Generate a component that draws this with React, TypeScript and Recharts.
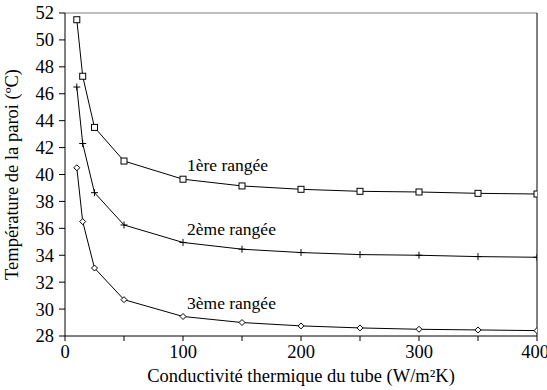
import { LineChart, Line, XAxis, YAxis, ReferenceLine } from "recharts";

const conductivity = [10, 15, 25, 50, 100, 150, 200, 250, 300, 350, 400];
const row1 = [51.5, 47.3, 43.5, 41.0, 39.65, 39.15, 38.9, 38.75, 38.7, 38.6, 38.55];
const row2 = [46.5, 42.3, 38.65, 36.25, 34.95, 34.45, 34.2, 34.05, 34.0, 33.9, 33.85];
const row3 = [40.5, 36.5, 33.05, 30.7, 29.45, 29.0, 28.75, 28.6, 28.5, 28.45, 28.4];
const rowNames = ["1ère rangée", "2ème rangée", "3ème rangée"];
const xTicks = [0, 50, 100, 150, 200, 250, 300, 350, 400];
const yTicks = [28, 30, 32, 34, 36, 38, 40, 42, 44, 46, 48, 50, 52];

const data = conductivity.map((k, i) => ({ k, r1: row1[i], r2: row2[i], r3: row3[i] }));

const FONT = "Liberation Serif";

const Square = ({ cx, cy }: any) => (
  <rect x={cx - 3} y={cy - 3} width={6} height={6} fill="#fff" stroke="#000" strokeWidth={1} />
);
const Plus = ({ cx, cy }: any) => (
  <path d={`M${cx - 3.5},${cy}H${cx + 3.5}M${cx},${cy - 3.5}V${cy + 3.5}`} stroke="#000" strokeWidth={1} />
);
const Diamond = ({ cx, cy }: any) => (
  <path d={`M${cx},${cy - 3}L${cx + 3},${cy}L${cx},${cy + 3}L${cx - 3},${cy}Z`} fill="#fff" stroke="#000" strokeWidth={1} />
);

// row name written just above the point at k = 100
const rowLabel = (name: string) => (props: any) => {
  if (props.index !== 4) return null;
  return (
    <text x={props.x + 4} y={props.y - 14} dy="0.35em" fill="#000" fontFamily={FONT} fontSize={17.5}>
      {name}
    </text>
  );
};

const XTick = ({ x, y, payload }: any) =>
  payload.value % 100 === 0 ? (
    <text x={x} y={y} dy="0.71em" textAnchor="middle" fill="#000" fontFamily={FONT} fontSize={18.5}>
      {payload.value}
    </text>
  ) : null;

const YTick = ({ x, y, payload }: any) => (
  <text x={x} y={y} dy="0.35em" textAnchor="end" fill="#000" fontFamily={FONT} fontSize={18.5}>
    {payload.value}
  </text>
);

export default function App() {
  return (
    <div style={{ position: "absolute", left: 0, top: 0, background: "#fff" }}>
      <LineChart width={547} height={390} data={data} margin={{ top: 13, right: 10, left: 0, bottom: 0 }}>
        <XAxis
          dataKey="k"
          type="number"
          domain={[0, 400]}
          ticks={xTicks}
          tick={<XTick />}
          tickSize={5}
          tickMargin={4}
          height={54}
          stroke="#000"
          allowDataOverflow
          label={{ value: "Conductivité thermique du tube (W/m²K)", position: "insideBottom", offset: 8, fill: "#000", fontFamily: FONT, fontSize: 18.5 }}
        />
        <YAxis
          type="number"
          domain={[28, 52]}
          ticks={yTicks}
          interval={0}
          width={65}
          tickSize={6}
          tickMargin={5}
          stroke="#000"
          tick={<YTick />}
          label={{ value: "Température de la paroi (ºC)", angle: -90, position: "insideLeft", offset: 11, fill: "#000", fontFamily: FONT, fontSize: 18.5, style: { textAnchor: "middle" } }}
        />
        <ReferenceLine y={52} stroke="#808080" />
        <ReferenceLine x={400} stroke="#000" />
        <Line dataKey="r1" stroke="#000" strokeWidth={1} dot={<Square />} label={rowLabel(rowNames[0])} isAnimationActive={false} />
        <Line dataKey="r2" stroke="#000" strokeWidth={1} dot={<Plus />} label={rowLabel(rowNames[1])} isAnimationActive={false} />
        <Line dataKey="r3" stroke="#000" strokeWidth={1} dot={<Diamond />} label={rowLabel(rowNames[2])} isAnimationActive={false} />
      </LineChart>
    </div>
  );
}
